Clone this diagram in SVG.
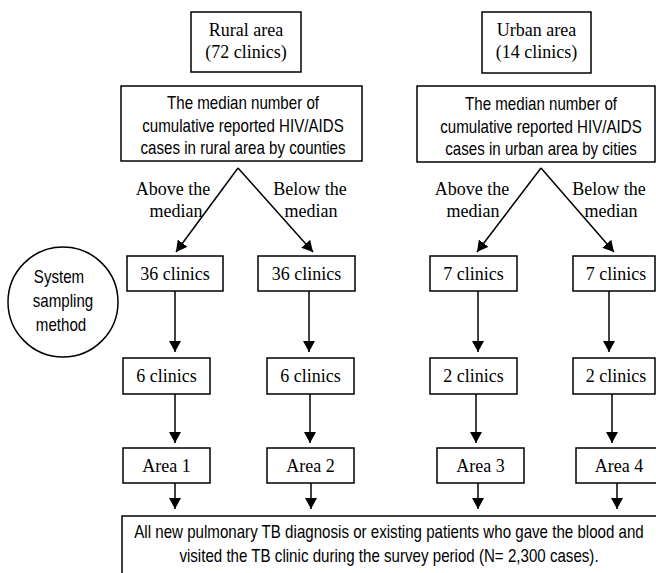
<svg xmlns="http://www.w3.org/2000/svg" width="656" height="573" viewBox="0 0 656 573">
<defs>
<style>
rect, circle { fill: #fff; stroke: #000; stroke-width: 1.5; }
.serif { font-family: "Liberation Serif", "Times New Roman", serif; font-size: 18px; text-anchor: middle; fill: #000; }
.sans { font-family: "Liberation Sans", Arial, sans-serif; font-size: 18px; text-anchor: middle; fill: #000; }
.conn path { fill: none; stroke: #000; stroke-width: 1.5; marker-end: url(#ah); }
</style>
<marker id="ah" markerUnits="userSpaceOnUse" markerWidth="11" markerHeight="12" refX="11" refY="6" orient="auto" viewBox="0 0 11 12">
<path d="M0,0 L11,6 L0,12 z" fill="#000"/>
</marker>
</defs>
<rect x="0" y="0" width="656" height="573" style="stroke:none;fill:#fff"/>

<g id="rural-area">
<rect x="191" y="12" width="110" height="60"/>
<text class="serif" x="246" y="36">Rural area</text>
<text class="serif" x="246" y="58">(72 clinics)</text>
</g>
<g id="urban-area">
<rect x="482" y="12" width="109" height="61"/>
<text class="serif" x="536.5" y="36">Urban area</text>
<text class="serif" x="536.5" y="58">(14 clinics)</text>
</g>

<g id="rural-median">
<rect x="121" y="86" width="241" height="75"/>
<text class="sans" transform="translate(243,109) scale(0.84,1)">The median number of</text>
<text class="sans" transform="translate(243,132) scale(0.84,1)">cumulative reported HIV/AIDS</text>
<text class="sans" transform="translate(243,154) scale(0.84,1)">cases in rural area by counties</text>
</g>
<g id="urban-median">
<rect x="417" y="86" width="238" height="76"/>
<text class="sans" transform="translate(541,110) scale(0.84,1)">The median number of</text>
<text class="sans" transform="translate(541,133) scale(0.84,1)">cumulative reported HIV/AIDS</text>
<text class="sans" transform="translate(541,155) scale(0.84,1)">cases in urban area by cities</text>
</g>

<g id="labels">
<text class="serif" x="173" y="195">Above the</text>
<text class="serif" x="176" y="217">median</text>
<text class="serif" x="310" y="195">Below the</text>
<text class="serif" x="311" y="217">median</text>
<text class="serif" x="472" y="195">Above the</text>
<text class="serif" x="473" y="217">median</text>
<text class="serif" x="609" y="195">Below the</text>
<text class="serif" x="611" y="217">median</text>
</g>

<g id="system-sampling">
<circle cx="63" cy="302" r="55"/>
<text class="sans" transform="translate(59,283) scale(0.84,1)">System</text>
<text class="sans" transform="translate(63,307) scale(0.84,1)">sampling</text>
<text class="sans" transform="translate(61,331) scale(0.84,1)">method</text>
</g>

<g id="r36a"><rect x="127" y="256" width="96" height="35"/><text class="serif" x="175" y="280">36 clinics</text></g>
<g id="r36b"><rect x="258" y="256" width="97" height="35"/><text class="serif" x="306.5" y="280">36 clinics</text></g>
<g id="u7a"><rect x="430" y="256" width="87" height="35"/><text class="serif" x="473.5" y="280">7 clinics</text></g>
<g id="u7b"><rect x="573" y="256" width="82" height="35"/><text class="serif" x="616" y="280">7 clinics</text></g>

<g id="r6a"><rect x="123" y="358" width="87" height="36"/><text class="serif" x="166.5" y="382">6 clinics</text></g>
<g id="r6b"><rect x="267" y="358" width="87" height="36"/><text class="serif" x="310.5" y="382">6 clinics</text></g>
<g id="u2a"><rect x="430" y="358" width="87" height="36"/><text class="serif" x="473.5" y="382">2 clinics</text></g>
<g id="u2b"><rect x="573" y="358" width="82" height="36"/><text class="serif" x="616" y="382">2 clinics</text></g>

<g id="area1"><rect x="123" y="448" width="87" height="35"/><text class="serif" x="166.5" y="472">Area 1</text></g>
<g id="area2"><rect x="267" y="448" width="87" height="35"/><text class="serif" x="310.5" y="472">Area 2</text></g>
<g id="area3"><rect x="437" y="448" width="87" height="35"/><text class="serif" x="480.5" y="472">Area 3</text></g>
<g id="area4"><rect x="576" y="448" width="86" height="35"/><text class="serif" x="619" y="472">Area 4</text></g>

<g id="patients">
<rect x="122" y="516" width="545" height="70"/>
<text class="sans" transform="translate(389,538) scale(0.84,1)">All new pulmonary TB diagnosis or existing patients who gave the blood and</text>
<text class="sans" transform="translate(389,562) scale(0.84,1)">visited the TB clinic during the survey period (N= 2,300 cases).</text>
</g>

<g id="connectors" class="conn">
<path d="M238,168 L176,252"/>
<path d="M238,168 L313,252"/>
<path d="M541,168 L477,252"/>
<path d="M541,168 L614,252"/>
<path d="M175,291 L175,352"/>
<path d="M309,291 L309,352"/>
<path d="M478,291 L478,352"/>
<path d="M609,291 L609,352"/>
<path d="M175,394 L175,443"/>
<path d="M310,394 L310,443"/>
<path d="M476,394 L476,443"/>
<path d="M612,394 L612,443"/>
<path d="M175,483 L175,509"/>
<path d="M311,483 L311,509"/>
<path d="M478,483 L478,509"/>
<path d="M617,483 L617,509"/>
</g>
</svg>
